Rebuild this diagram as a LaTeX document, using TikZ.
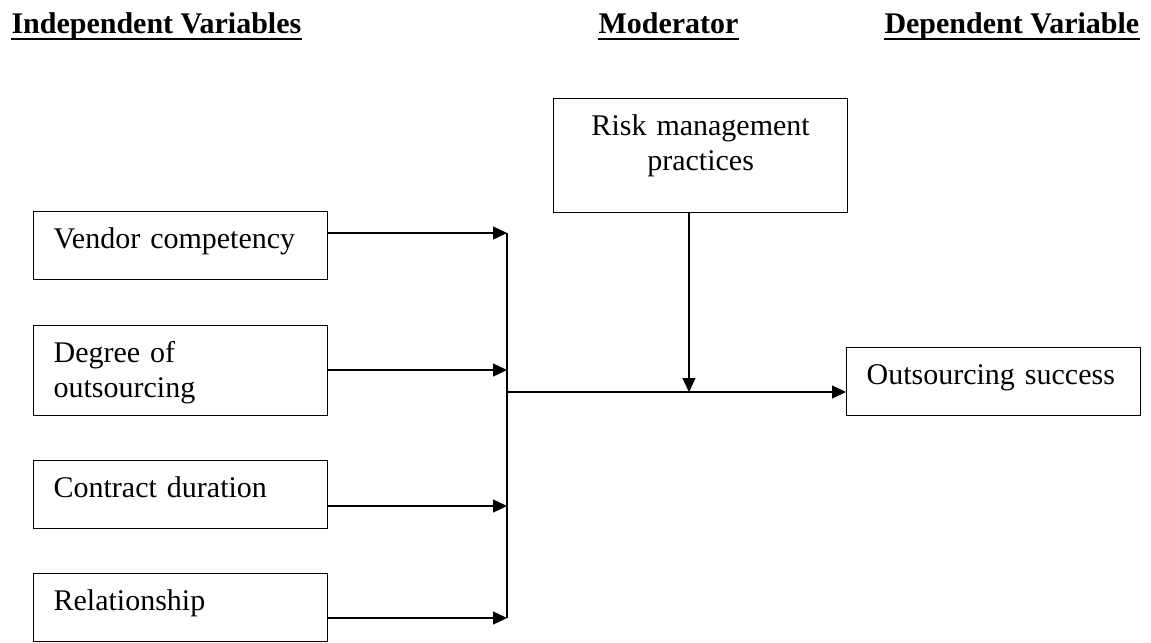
\documentclass[tikz,border=0pt]{standalone}
\usepackage{fontspec}
\setmainfont{Liberation Serif}
\usetikzlibrary{arrows.meta}

\tikzset{
  varbox/.style={draw, line width=0.5pt, anchor=north west,
    inner xsep=8pt, inner ysep=0pt, text width=101.6pt,
    text height=14.8pt, text depth=#1,
    font=\fontsize{12}{13.8}\selectfont},
  varbox/.default=12.4pt,
  head/.style={anchor=base west, inner sep=0pt,
    font=\fontsize{12}{14}\selectfont\bfseries},
  link/.style={line width=0.5pt},
  feed/.style={link, -{Triangle[length=5.6pt,width=5.2pt]}}
}

\begin{document}
\begin{tikzpicture}[x=0.4pt,y=-0.4pt]
    \useasboundingbox (0,0) rectangle (1151,642);

    % headings
    \node[head] (indep) at (11,33) {Independent Variables};
    \node[head] (moder) at (598,33) {Moderator};
    \node[head] (depen) at (884,33) {Dependent Variable};
    \foreach \h in {indep,moder,depen}
        \draw[line width=1pt] ([yshift=-2.4pt]\h.base west) -- ([yshift=-2.4pt]\h.base east);

    % boxes
    \node[varbox, align=left] (vendor) at (33,211) {Vendor competency};
    \node[varbox=21.2pt, align=left] (degree) at (33,325) {Degree of\\outsourcing};
    \node[varbox, align=left] (contract) at (33,460) {Contract duration};
    \node[varbox, align=left] (relation) at (33,573) {Relationship};
    \node[varbox=30.8pt, align=center] (risk) at (553,98) {Risk management\\practices};
    \node[varbox, align=left] (success) at (846,347) {Outsourcing success};

    % junctions
    \coordinate (b1) at (507,233);
    \coordinate (b2) at (507,370);
    \coordinate (b3) at (507,506);
    \coordinate (b4) at (507,618);
    \coordinate (hub) at (507,392);
    \coordinate (mix) at (689,392);

    % connectors
    \draw[feed] (vendor.east |- b1) -- (b1);
    \draw[feed] (degree.east |- b2) -- (b2);
    \draw[feed] (contract.east |- b3) -- (b3);
    \draw[feed] (relation.east |- b4) -- (b4);
    \draw[link] (b1) -- (b4);
    \draw[feed] (hub) -- (success.west |- hub);
    \draw[feed] (risk.south -| mix) -- (mix);
\end{tikzpicture}
\end{document}
